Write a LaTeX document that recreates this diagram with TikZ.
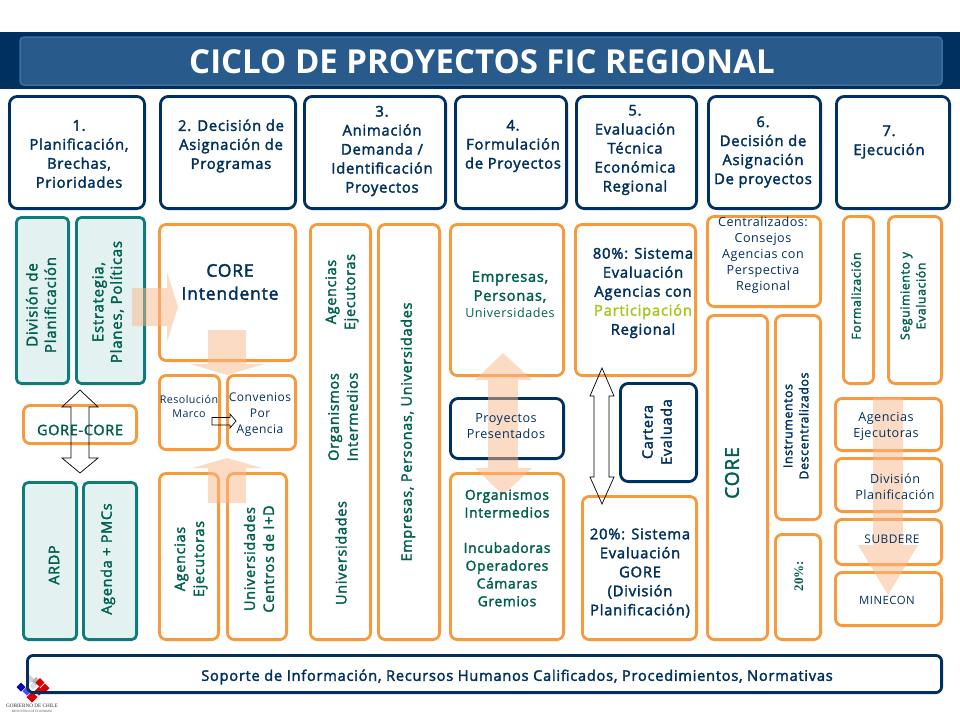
\documentclass[tikz,border=0pt]{standalone}
\usepackage{fontspec}
\setmainfont{Open Sans}[LetterSpace=4]
\newfontfamily\medf{Open Sans}[LetterSpace=5,FakeBold=2.2]
\newfontfamily\titlef{Open Sans}
\newfontfamily\serf{Liberation Serif}
\definecolor{navy}{HTML}{00305F}
\definecolor{tealb}{HTML}{0E7C7B}
\definecolor{tealf}{HTML}{E3F1F1}
\definecolor{tealt}{HTML}{00604F}
\definecolor{oran}{HTML}{F79A3E}
\definecolor{peach}{HTML}{FBB88A}
\definecolor{lime}{HTML}{A5C81E}
\definecolor{headin}{HTML}{285A8C}
\definecolor{headbd}{HTML}{3F6F9F}
\tikzset{
  x=1pt,y=-1pt,
  bxs/.style={draw,line width=2.8pt,inner sep=0pt,outer sep=0pt},
  navybx/.style={bxs,draw=navy,fill=white,rounded corners=8pt},
  orbx/.style={bxs,draw=oran,fill=white,rounded corners=7pt},
  tealbx/.style={bxs,draw=tealb,fill=tealf,rounded corners=5pt},
  txn/.style={text=navy,align=center,font=\fontsize{14.8}{19}\medf},
  txnr/.style={text=navy,align=center,font=\fontsize{12.6}{16}\selectfont},
  txt/.style={text=tealt,align=center,font=\fontsize{14.4}{19}\medf},
  txl/.style={text=tealt,align=center,font=\fontsize{15}{18.5}\medf},
  txs/.style={text=tealt,align=center,font=\fontsize{12.3}{16}\medf},
  blockarrow/.style={fill=peach,opacity=.5,draw=none},
  linearrow/.style={draw=black,line width=.7pt},
  logoc/.style={draw=none},
}
% box: style, name, x1,y1,x2,y2 (outer edges)
\newcommand{\bx}[6]{\node[#1,minimum width=#5pt-#3pt-2.8pt,minimum height=#6pt-#4pt-2.8pt,anchor=north west] (#2) at (#3+1.4,#4+1.4) {};}
% text: style, name, cx, cy, text
\newcommand{\tx}[5]{\node[#1] (#2) at (#3,#4) {#5};}
% logo tile: colour, cx, cy, half-diagonal
\newcommand{\tile}[4]{\fill[logoc,#1] (#2,#3-#4) -- (#2+#4,#3) -- (#2,#3+#4) -- (#2-#4,#3) -- cycle;}
\begin{document}
\begin{tikzpicture}
\useasboundingbox (0,0) rectangle (960,720);
\fill[white] (0,0) rectangle (960,720);
% header
\node[fill=navy,minimum width=960pt,minimum height=57pt,anchor=north west,inner sep=0pt,outer sep=0pt] (band) at (0,32) {};
\node[fill=headin,draw=headbd,line width=1.5pt,rounded corners=4pt,minimum width=922pt,minimum height=48pt,anchor=north west,inner sep=0pt,outer sep=0pt] (titlebox) at (20,37) {};
\node[text=white,font=\fontsize{33}{33}\titlef\bfseries] (title) at (482,62) {CICLO DE PROYECTOS FIC REGIONAL};
% step headers
\bx{navybx}{h1}{8}{95}{146}{210}
\bx{navybx}{h2}{159}{95}{297}{210}
\bx{navybx}{h3}{303}{95}{447}{210}
\bx{navybx}{h4}{454}{95}{568}{210}
\bx{navybx}{h5}{575}{95}{698}{210}
\bx{navybx}{h6}{707}{95}{822}{210}
\bx{navybx}{h7}{835}{95}{951}{210}
% column 1
\bx{tealbx}{divp}{15}{216}{70}{385}
\bx{tealbx}{estr}{75}{216}{146}{385}
\bx{orbx}{gore}{22}{404}{138}{445}
\bx{tealbx}{ardp}{22}{481}{78}{641}
\bx{tealbx}{agen}{82}{481}{138}{641}
% column 2
\bx{orbx}{cint}{158}{223}{297}{362}
\bx{orbx}{reso}{158}{374}{221}{451}
\bx{orbx}{conv}{226}{374}{297}{451}
\bx{orbx}{aeje}{158}{472}{220}{641}
\bx{orbx}{univ}{226}{472}{288}{641}
% column 3
\bx{orbx}{orgs}{309}{223}{372}{641}
\bx{orbx}{empr}{377}{223}{441}{641}
% column 4
\bx{orbx}{empu}{449}{223}{565}{377}
\bx{navybx}{pres}{449}{397}{565}{460}
\bx{orbx}{orin}{449}{472}{565}{641}
% column 5
\bx{orbx}{ev80}{574}{223}{697}{377}
\bx{navybx}{cart}{619}{382}{698}{483}
\bx{orbx}{ev20}{581}{495}{698}{641}
% column 6
\bx{orbx}{cent}{706}{215}{822}{308}
\bx{orbx}{core}{706}{314}{769}{641}
\bx{orbx}{inst}{774}{314}{822}{521}
\bx{orbx}{pc20}{774}{533}{822}{641}
% column 7
\bx{orbx}{form}{842}{215}{875}{385}
\bx{orbx}{segu}{887}{215}{943}{385}
\bx{orbx}{aej2}{834}{397}{943}{452}
\bx{orbx}{dpl2}{834}{457}{943}{513}
\bx{orbx}{subd}{834}{518}{943}{566}
\bx{orbx}{mine}{834}{571}{943}{627}
% logo
\tile{gray!35}{30}{679}{4}
\tile{gray!60}{36}{681}{4}
\tile{gray!25}{33}{686}{3.5}
\tile{blue!75!black}{21}{687}{4.5}
\tile{blue!70}{27}{691}{4.5}
\tile{red!85!black}{40}{682.5}{4.5}
\tile{red!85!black}{45}{688}{4.5}
\tile{red!85!black}{39}{691}{4.5}
\tile{red!85!black}{32}{697}{5.5}
\node[text=black!80,font=\fontsize{5.2}{6}\serf] (logot) at (32,706) {GOBIERNO DE CHILE};
\node[text=black!70,font=\fontsize{3}{4}\selectfont] (logos) at (32,711) {MINISTERIO DE ECONOMÍA};
% bottom
\node[bxs,draw=navy,rounded corners=6pt,minimum width=914.2pt,minimum height=37.2pt,anchor=north west] (sop) at (27.4,655.4) {};
% block arrows
\fill[blockarrow] (132,288) -- (167,288) -- (167,272) -- (178,307) -- (167,342) -- (167,326) -- (132,326) -- cycle;
\fill[blockarrow] (208,330) -- (246,330) -- (246,364) -- (264,364) -- (227,375) -- (190,364) -- (208,364) -- cycle;
\fill[blockarrow] (208,503) -- (246,503) -- (246,468) -- (262,468) -- (227,458) -- (192,468) -- (208,468) -- cycle;
\fill[blockarrow] (503,353) -- (532,380) -- (518,380) -- (518,468) -- (532,468) -- (503,495) -- (475,468) -- (488,468) -- (488,380) -- (475,380) -- cycle;
\fill[blockarrow] (873,398) -- (903,398) -- (903,545) -- (918,545) -- (888,595) -- (858,545) -- (873,545) -- cycle;
% outline arrows
\draw[linearrow] (80,390) -- (98,407) -- (89,407) -- (89,458) -- (98,458) -- (80,473) -- (62,458) -- (71,458) -- (71,407) -- (62,407) -- cycle;
\draw[linearrow] (212,417.5) -- (230,417.5) -- (230,414) -- (236,421) -- (230,428) -- (230,425) -- (212,425) -- cycle;
\draw[linearrow] (602,368) -- (614,396) -- (609,396) -- (609,477) -- (614,477) -- (602,504) -- (590,477) -- (594,477) -- (594,396) -- (590,396) -- cycle;
% texts: headers
\tx{txn}{h1t}{79}{154}{1.\\Planificación,\\Brechas,\\Prioridades}
\tx{txn}{h2t}{231}{146}{2. Decisión de\\Asignación de\\Programas}
\tx{txn}{h3t}{382}{151}{3.\\Animación\\Demanda /\\Identificación\\Proyectos}
\tx{txn}{h4t}{513}{146}{4.\\Formulación\\de Proyectos}
\tx{txn}{h5t}{635}{150}{5.\\Evaluación\\Técnica\\Económica\\Regional}
\tx{txn}{h6t}{763}{152}{6.\\Decisión de\\Asignación\\De proyectos}
\tx{txn}{h7t}{889}{142}{7.\\Ejecución}
% col 1
\tx{txl,rotate=90}{divt}{41}{305}{División de\\Planificación}
\tx{txl,rotate=90}{estt}{108}{302}{Estrategia,\\Planes, Políticas}
\tx{txt}{goret}{80}{430}{GORE-CORE}
\tx{txt,rotate=90}{ardt}{54}{565}{ARDP}
\tx{txt,rotate=90}{aget}{108}{559}{Agenda + PMCs}
% col 2
\node[text=navy,align=center,font=\fontsize{17.4}{23}\medf] (cintt) at (230,282) {CORE\\Intendente};
\tx{txnr,font=\fontsize{10.7}{14}\selectfont}{resot}{189}{406}{Resolución\\Marco}
\tx{txnr,font=\fontsize{12}{16}\selectfont}{convt}{260}{415}{Convenios\\Por\\Agencia}
\tx{txt,rotate=90}{aejet}{191}{559}{Agencias\\Ejecutoras}
\tx{txt,rotate=90}{univt}{259}{559}{Universidades\\Centros de I+D}
% col 3
\tx{txt,rotate=90}{orgt1}{342}{292}{Agencias\\Ejecutoras}
\tx{txt,rotate=90}{orgt2}{343}{417}{Organismos\\Intermedios}
\tx{txt,rotate=90}{orgt3}{341}{553}{Universidades}
\tx{txt,rotate=90}{emprt}{408}{432}{Empresas, Personas, Universidades}
% col 4
\node[text=tealt,align=center,font=\fontsize{14.7}{19}\medf] (empt) at (510,287) {Empresas,\\Personas,};
\tx{txnr,text=tealt}{empu2}{510}{313}{Universidades}
\tx{txnr}{prest}{506}{426}{Proyectos\\Presentados}
\node[text=tealt,align=center,font=\fontsize{13.8}{17.8}\medf] (orint) at (507,548) {Organismos\\Intermedios\\[17.5pt]Incubadoras\\Operadores\\Cámaras\\Gremios};
% col 5
\node[text=navy,align=center,font=\fontsize{14.8}{19}\medf] (ev80t) at (643,293) {80\%: Sistema\\Evaluación\\Agencias con\\\textcolor{lime}{Participación}\\Regional};
\tx{txt,rotate=90,text=navy}{cartt}{657}{432}{Cartera\\Evaluada}
\tx{txn}{ev20t}{640}{573}{20\%: Sistema\\Evaluación\\GORE\\(División\\Planificación)}
% col 6
\tx{txnr}{centt}{763}{255}{Centralizados:\\Consejos\\Agencias con\\Perspectiva\\Regional}
\node[text=tealt,rotate=90,font=\fontsize{19}{20}\medf] (coret) at (732,473) {CORE};
\tx{txs,rotate=90,text=navy}{instt}{796}{426}{Instrumentos\\Descentralizados}
\node[text=tealt,rotate=90,font=\fontsize{13}{15}\serf\bfseries] (pc20t) at (799,576) {20\%:};
% col 7
\tx{txs,rotate=90}{formt}{856}{296}{Formalización}
\tx{txs,rotate=90}{segut}{913}{296}{Seguimiento y\\Evaluación}
\tx{txnr}{aej2t}{886}{426}{Agencias\\Ejecutoras}
\tx{txnr}{dpl2t}{895}{487}{División\\Planificación}
\tx{txnr,font=\fontsize{11.9}{15}\selectfont}{subdt}{892}{539}{SUBDERE}
\tx{txnr,font=\fontsize{11.4}{15}\selectfont}{minet}{887}{600}{MINECON}
\node[text=navy,font=\fontsize{14.65}{19}\medf] (sopt) at (517,677) {Soporte de Información, Recursos Humanos Calificados, Procedimientos, Normativas};
\end{tikzpicture}
\end{document}
